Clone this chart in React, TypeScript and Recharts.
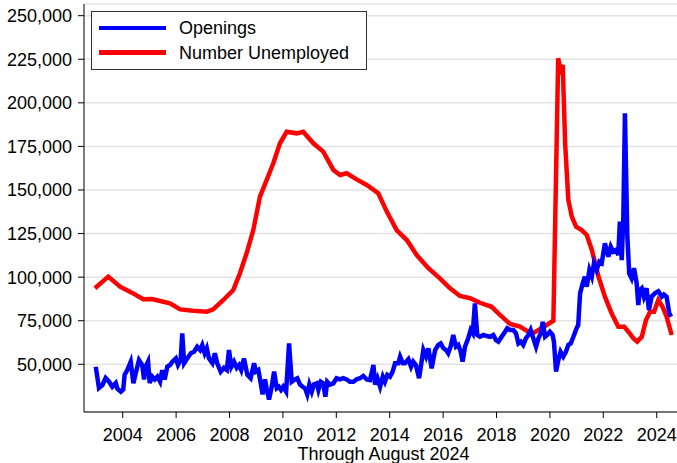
import React from 'react';
import { LineChart, Line, XAxis, YAxis, CartesianGrid, Legend } from 'recharts';

// decimal year / value pairs
const openingsT = [
  2002.99, 2003.11, 2003.24, 2003.36, 2003.49, 2003.61, 2003.74, 2003.8, 2003.93, 2004.02,
  2004.07, 2004.17, 2004.3, 2004.4, 2004.49, 2004.61, 2004.73, 2004.8, 2004.86, 2004.95,
  2005.01, 2005.11, 2005.2, 2005.3, 2005.4, 2005.48, 2005.57, 2005.67, 2005.77, 2005.86,
  2005.99, 2006.07, 2006.17, 2006.23, 2006.3, 2006.42, 2006.55, 2006.67, 2006.79, 2006.9,
  2006.98, 2007.07, 2007.15, 2007.23, 2007.36, 2007.45, 2007.54, 2007.67, 2007.79, 2007.9,
  2007.98, 2008.07, 2008.17, 2008.27, 2008.36, 2008.44, 2008.54, 2008.67, 2008.79, 2008.92,
  2008.99, 2009.08, 2009.17, 2009.24, 2009.33, 2009.39, 2009.48, 2009.58, 2009.67, 2009.77,
  2009.85, 2009.93, 2010.01, 2010.12, 2010.23, 2010.33, 2010.45, 2010.54, 2010.64, 2010.74,
  2010.83, 2010.91, 2010.99, 2011.08, 2011.16, 2011.27, 2011.33, 2011.42, 2011.51, 2011.59,
  2011.66, 2011.76, 2011.89, 2012.01, 2012.14, 2012.26, 2012.39, 2012.51, 2012.64, 2012.76,
  2012.89, 2013.01, 2013.14, 2013.26, 2013.39, 2013.45, 2013.54, 2013.64, 2013.74, 2013.82,
  2013.91, 2014.01, 2014.11, 2014.2, 2014.32, 2014.39, 2014.49, 2014.57, 2014.7, 2014.8,
  2014.88, 2014.98, 2015.1, 2015.26, 2015.36, 2015.45, 2015.57, 2015.7, 2015.82, 2015.91,
  2016.01, 2016.11, 2016.19, 2016.28, 2016.38, 2016.48, 2016.57, 2016.66, 2016.73, 2016.82,
  2016.94, 2017.03, 2017.11, 2017.19, 2017.28, 2017.38, 2017.51, 2017.63, 2017.76, 2017.88,
  2017.98, 2018.07, 2018.19, 2018.32, 2018.4, 2018.51, 2018.63, 2018.73, 2018.82, 2018.91,
  2019.0, 2019.1, 2019.19, 2019.28, 2019.38, 2019.48, 2019.57, 2019.66, 2019.73, 2019.82,
  2019.9, 2020.0, 2020.1, 2020.15, 2020.23, 2020.31, 2020.4, 2020.5, 2020.6, 2020.69,
  2020.78, 2020.88, 2021.0, 2021.06, 2021.13, 2021.23, 2021.31, 2021.38, 2021.48, 2021.57,
  2021.65, 2021.75, 2021.85, 2021.94, 2022.06, 2022.19, 2022.28, 2022.37, 2022.47, 2022.56,
  2022.62, 2022.69, 2022.75, 2022.81, 2022.9, 2022.97, 2023.06, 2023.15, 2023.25, 2023.31,
  2023.37, 2023.44, 2023.52, 2023.62, 2023.71, 2023.81, 2023.93, 2024.06, 2024.19, 2024.27,
  2024.37, 2024.47, 2024.54,
];
const openingsV = [
  48600, 36400, 38100, 42100, 40000, 37100, 39300, 36000, 34300, 35600,
  43900, 46700, 51500, 39100, 45000, 52400, 49600, 41300, 48600, 51500,
  39300, 42900, 41300, 42900, 40000, 46700, 41300, 48600, 49600, 51500,
  53400, 49600, 52500, 67800, 50600, 53400, 56300, 57200, 60100, 58200,
  61000, 56300, 59200, 53400, 50600, 56300, 50600, 45800, 48000, 46700,
  58200, 48600, 51500, 48000, 49600, 46700, 53400, 43900, 42000, 50600,
  45800, 46700, 39100, 32700, 41300, 36200, 29800, 37100, 45800, 36200,
  37100, 35300, 37100, 34300, 62000, 40000, 41300, 42000, 38400, 37100,
  36200, 32700, 38400, 34300, 38400, 39100, 35300, 40000, 39100, 31400,
  40000, 38400, 39100, 42000, 41300, 42000, 41300, 40000, 40000, 41400,
  42000, 43300, 41300, 40900, 49600, 38400, 42000, 37100, 42900, 40000,
  43900, 42900, 45800, 50600, 50600, 54400, 50600, 50600, 52900, 48600,
  51500, 49600, 42000, 58200, 54400, 59200, 47700, 58200, 61100, 62000,
  59200, 58200, 56300, 60100, 66800, 60100, 61100, 57200, 51500, 60100,
  64900, 69700, 67800, 85000, 66800, 65800, 66800, 66200, 65800, 66800,
  63900, 63000, 65800, 68700, 70700, 69700, 69700, 67800, 62000, 63000,
  61100, 64900, 66800, 69700, 64900, 60100, 64900, 67800, 74400, 65800,
  66800, 68700, 66800, 63000, 45800, 52000, 57200, 54400, 57200, 61100,
  62000, 65800, 70700, 72500, 90700, 96500, 100300, 94500, 104100, 100300,
  108000, 104100, 108900, 108000, 119400, 111700, 117500, 114600, 115600, 112700,
  131800, 109800, 134700, 194000, 123500, 102200, 99300, 105100, 96500, 84000,
  92600, 93600, 88800, 93600, 81200, 88800, 90700, 91900, 88800, 90000,
  88800, 79300, 77300,
];

const unemployedT = [
  2002.96, 2003.46, 2003.9, 2004.34, 2004.77, 2005.09, 2005.52, 2005.77, 2006.15, 2006.64,
  2007.15, 2007.39, 2007.77, 2008.14, 2008.39, 2008.64, 2008.89, 2009.14, 2009.39, 2009.64,
  2009.89, 2010.14, 2010.52, 2010.76, 2011.14, 2011.51, 2011.89, 2012.14, 2012.39, 2012.76,
  2013.14, 2013.57, 2013.89, 2014.26, 2014.64, 2015.01, 2015.45, 2015.88, 2016.26, 2016.63,
  2017.01, 2017.38, 2017.82, 2018.13, 2018.51, 2018.88, 2019.32, 2019.69, 2020.13, 2020.31,
  2020.39, 2020.48, 2020.57, 2020.69, 2020.82, 2020.98, 2021.19, 2021.38, 2021.57, 2021.82,
  2022.06, 2022.31, 2022.56, 2022.78, 2022.94, 2023.13, 2023.27, 2023.44, 2023.6, 2023.75,
  2023.9, 2024.06, 2024.22, 2024.37, 2024.56,
];
const unemployedV = [
  93600, 100300, 94500, 91100, 87300, 87500, 85900, 85000, 81500, 80700,
  80200, 81500, 86900, 92600, 102200, 113700, 127000, 146200, 155700, 165300,
  176800, 183400, 182500, 183400, 176800, 172000, 161500, 158600, 159600, 156100,
  152900, 148100, 137600, 127000, 121300, 112700, 105100, 99300, 93600, 89200,
  87900, 85300, 83000, 78300, 73100, 71600, 67400, 70700, 75000, 225600,
  218800, 221700, 176800, 144300, 134700, 129000, 127000, 124200, 115600, 100300,
  88800, 79300, 71600, 71600, 68700, 64900, 63000, 65800, 75400, 80200,
  80200, 86900, 83000, 77300, 66800,
];

const xTicks = [2004, 2006, 2008, 2010, 2012, 2014, 2016, 2018, 2020, 2022, 2024];
const yTicks = [50000, 75000, 100000, 125000, 150000, 175000, 200000, 225000, 250000];

const openings = openingsT.map((t, i) => ({ t, v: openingsV[i] }));
const unemployed = unemployedT.map((t, i) => ({ t, v: unemployedV[i] }));

const FONT = '"Liberation Sans", Arial, sans-serif';
const xDomain = [2002.55, 2024.76];

const legendItems = [
  { label: 'Openings', color: '#0000ff' },
  { label: 'Number Unemployed', color: '#ff0000' },
];

const LegendBox = () => (
  <div
    style={{
      border: '1px solid #333',
      background: '#fff',
      width: 274,
      height: 57,
      boxSizing: 'content-box',
      fontFamily: FONT,
      fontSize: 18,
      color: '#000',
    }}
  >
    {legendItems.map((it, i) => (
      <div key={it.label} style={{ position: 'absolute', left: 8, top: 8 + i * 24.5, display: 'flex', alignItems: 'center', height: 18 }}>
        <div style={{ width: 67, height: 4.5, background: it.color }} />
        <span style={{ marginLeft: 13, lineHeight: '18px' }}>{it.label}</span>
      </div>
    ))}
  </div>
);

const App = () => {
  return (
    <div style={{ position: 'absolute', left: 0, top: 0, background: '#fff' }}>
      <LineChart width={677} height={463} margin={{ top: 4, right: 0, left: 0, bottom: 0 }}>
        <CartesianGrid vertical={false} stroke="#e3e3e3" strokeWidth={1.5} />
        <XAxis
          dataKey="t"
          type="number"
          domain={xDomain}
          allowDataOverflow
          ticks={xTicks}
          height={51}
          tickSize={6}
          tickMargin={10}
          stroke="#000"
          tick={{ fill: '#000', fontSize: 18, fontFamily: FONT }}
          label={{ value: 'Through August 2024', position: 'insideBottom', offset: 3, dx: 3, fill: '#000', fontSize: 18, fontFamily: FONT }}
        />
        <XAxis
          xAxisId="top"
          orientation="top"
          type="number"
          domain={xDomain}
          allowDataOverflow
          height={0}
          tick={false}
          tickLine={false}
          stroke="#000"
        />
        <YAxis
          type="number"
          domain={[22640, 256700]}
          allowDataOverflow
          ticks={yTicks}
          width={84}
          tickSize={6}
          tickMargin={6}
          stroke="#000"
          tickFormatter={(v: number) => v.toLocaleString('en-US')}
          tick={{ fill: '#000', fontSize: 18, fontFamily: FONT }}
        />
        <Legend
          layout="vertical"
          verticalAlign="middle"
          align="center"
          content={<LegendBox />}
          wrapperStyle={{ left: 91, top: 11, width: 276, height: 59 }}
        />
        <Line
          data={unemployed}
          dataKey="v"
          type="linear"
          stroke="#ff0000"
          strokeWidth={4.5}
          dot={false}
          isAnimationActive={false}
          name="Number Unemployed"
        />
        <Line
          data={openings}
          dataKey="v"
          type="linear"
          stroke="#0000ff"
          strokeWidth={4.5}
          dot={false}
          isAnimationActive={false}
          name="Openings"
        />
      </LineChart>
    </div>
  );
};

export default App;
